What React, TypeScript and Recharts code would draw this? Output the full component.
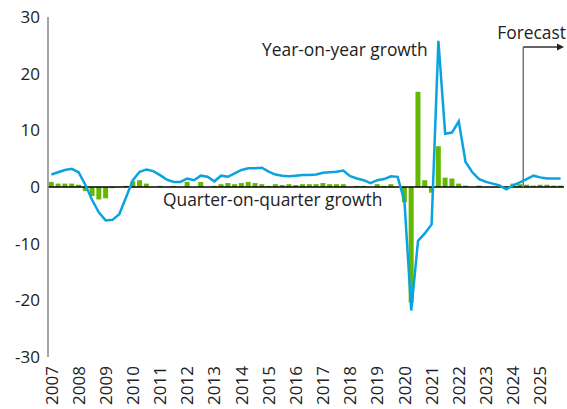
import { ComposedChart, Bar, Line, XAxis, YAxis, ReferenceLine } from "recharts";

const years = [
  2007, 2008, 2009, 2010, 2011, 2012, 2013, 2014, 2015, 2016,
  2017, 2018, 2019, 2020, 2021, 2022, 2023, 2024, 2025,
];

const quarters = years.flatMap((y) => [`${y}Q1`, `${y}Q2`, `${y}Q3`, `${y}Q4`]);

// quarter-on-quarter growth, %
const qoqGrowth = [
  0.9, 0.6, 0.6, 0.6,
  0.4, -0.7, -1.6, -2.2,
  -2.0, -0.2, 0.0, 0.2,
  1.0, 1.2, 0.6, 0.0,
  0.2, 0.0, 0.2, 0.0,
  0.9, 0.0, 0.9, 0.0,
  0.2, 0.5, 0.7, 0.5,
  0.7, 0.9, 0.7, 0.5,
  0.2, 0.5, 0.35, 0.5,
  0.35, 0.5, 0.5, 0.5,
  0.7, 0.5, 0.5, 0.5,
  0.0, 0.2, 0.2, 0.0,
  0.5, 0.2, 0.5, 0.0,
  -2.7, -20.4, 16.8, 1.2,
  -1.0, 7.2, 1.65, 1.5,
  0.6, 0.25, 0.0, 0.25,
  0.0, 0.0, 0.0, 0.0,
  0.6, 0.5, 0.4, 0.25,
  0.4, 0.4, 0.25, 0.25,
];

// year-on-year growth, %
const yoyGrowth = [
  2.2, 2.6, 3.0, 3.2,
  2.6, 0.4, -2.3, -4.5,
  -5.9, -5.8, -4.8, -1.8,
  1.2, 2.7, 3.1, 2.8,
  2.1, 1.3, 0.9, 0.9,
  1.5, 1.2, 2.0, 1.8,
  1.0, 2.0, 1.8, 2.4,
  3.0, 3.3, 3.3, 3.4,
  2.7, 2.2, 2.0, 1.9,
  2.0, 2.1, 2.1, 2.2,
  2.5, 2.6, 2.7, 2.9,
  1.9, 1.5, 1.2, 0.7,
  1.2, 1.4, 1.9, 1.8,
  -2.5, -21.8, -9.5, -8.2,
  -6.6, 25.8, 9.4, 9.6,
  11.6, 4.4, 2.6, 1.4,
  0.9, 0.6, 0.3, -0.4,
  0.3, 0.8, 1.4, 2.0,
  1.7, 1.5, 1.5, 1.5,
];

const yTicks = [-30, -20, -10, 0, 10, 20, 30];

const lastActual = "2024Q2";
const lastQuarter = "2025Q4";
const forecastLevel = 24.7;

const data = quarters.map((q, i) => ({ q, qoq: qoqGrowth[i], yoy: yoyGrowth[i] }));

const FONT = "'Open Sans', sans-serif";
const TEXT = "#222";

function YearTick({ x, y, payload }: any) {
  return (
    <g transform={`translate(${x},${y})`}>
      <text
        transform="rotate(-90)"
        textAnchor="end"
        dy="0.36em"
        x={-1}
        fontSize={17}
        fontFamily={FONT}
        fill={TEXT}
      >
        {String(payload.value).slice(0, 4)}
      </text>
    </g>
  );
}

function ForecastArrow(props: any) {
  const { x1, y1, x2, y2 } = props;
  return (
    <g>
      <line x1={x1} y1={y1} x2={x2 - 6} y2={y2} stroke="#333" strokeWidth={1.5} />
      <path d={`M${x2},${y2} L${x2 - 7},${y2 - 3.5} L${x2 - 7},${y2 + 3.5} Z`} fill="#222" />
    </g>
  );
}

export default function App() {
  return (
    <div style={{ position: "absolute", left: 0, top: 0, width: 567, height: 409 }}>
      <ComposedChart
        width={567}
        height={409}
        data={data}
        margin={{ top: 17, right: 3, left: 0, bottom: 0 }}
        barCategoryGap="12%"
      >
        <XAxis
          dataKey="q"
          interval={3}
          axisLine={false}
          tickLine={false}
          height={52}
          tick={<YearTick />}
        />
        <YAxis
          domain={[-30, 30]}
          ticks={yTicks}
          interval={0}
          width={48}
          tickLine={false}
          axisLine={{ stroke: "#888", strokeWidth: 1.5 }}
          tick={{ fontSize: 17, fill: TEXT, fontFamily: FONT }}
        />
        <Bar dataKey="qoq" fill="#64b900" isAnimationActive={false} />
        <ReferenceLine y={0} stroke="#000" strokeWidth={1.5} />
        <ReferenceLine
          segment={[
            { x: lastActual, y: 0 },
            { x: lastActual, y: forecastLevel },
          ]}
          position="end"
          stroke="#777"
          strokeWidth={1.5}
        />
        <ReferenceLine
          segment={[
            { x: lastActual, y: forecastLevel },
            { x: lastQuarter, y: forecastLevel },
          ]}
          position="end"
          shape={<ForecastArrow />}
        />
        <Line
          type="linear"
          dataKey="yoy"
          stroke="#0aa3e0"
          strokeWidth={2.5}
          dot={false}
          isAnimationActive={false}
        />
      </ComposedChart>
      <svg
        width={567}
        height={409}
        style={{ position: "absolute", left: 0, top: 0, pointerEvents: "none" }}
      >
        <text x={262} y={56} fontSize={17.4} fontFamily={FONT} fill={TEXT}>
          Year-on-year growth
        </text>
        <text x={163} y={206} fontSize={17.4} fontFamily={FONT} fill={TEXT}>
          Quarter-on-quarter growth
        </text>
        <text x={566} y={39} fontSize={17.4} fontFamily={FONT} fill={TEXT} textAnchor="end">
          Forecast
        </text>
      </svg>
    </div>
  );
}
